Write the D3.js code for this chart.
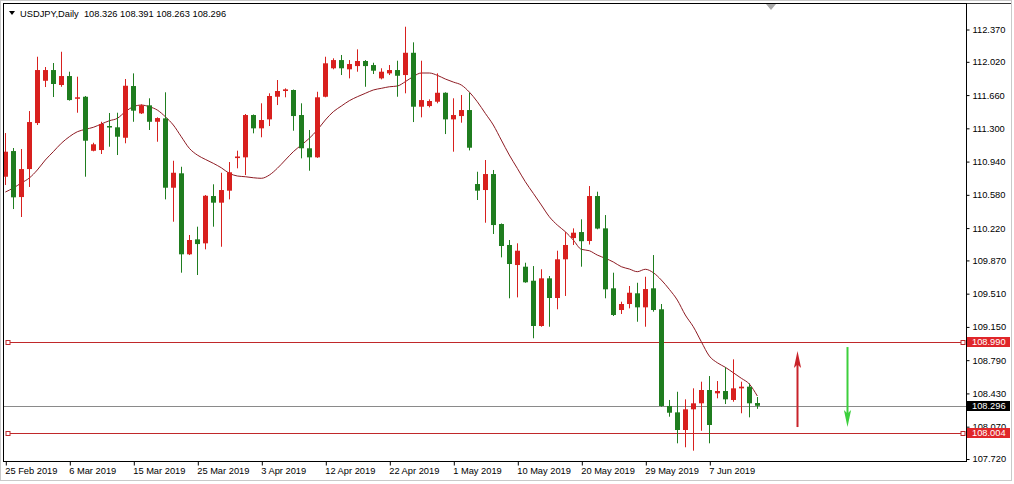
<!DOCTYPE html>
<html><head><meta charset="utf-8">
<script src="https://cdn.jsdelivr.net/npm/d3@7/dist/d3.min.js"></script>
<style>
html,body{margin:0;padding:0;background:#fff;}
svg{display:block;}
text{font-family:"Liberation Sans",Arial,sans-serif;}
</style></head><body>
<svg id="c" width="1014" height="484"></svg>
<script>
// ---------- DATA ----------
const symbol = "USDJPY,Daily";
const dates = ["2019-02-25","2019-02-26","2019-02-27","2019-02-28","2019-03-01","2019-03-03","2019-03-04","2019-03-05","2019-03-06","2019-03-07",
"2019-03-08","2019-03-10","2019-03-11","2019-03-12","2019-03-13","2019-03-14","2019-03-15","2019-03-17","2019-03-18","2019-03-19",
"2019-03-20","2019-03-21","2019-03-22","2019-03-24","2019-03-25","2019-03-26","2019-03-27","2019-03-28","2019-03-29","2019-03-31",
"2019-04-01","2019-04-02","2019-04-03","2019-04-04","2019-04-05","2019-04-07","2019-04-08","2019-04-09","2019-04-10","2019-04-11",
"2019-04-12","2019-04-14","2019-04-15","2019-04-16","2019-04-17","2019-04-18","2019-04-19","2019-04-21","2019-04-22","2019-04-23",
"2019-04-24","2019-04-25","2019-04-26","2019-04-28","2019-04-29","2019-04-30","2019-05-01","2019-05-02","2019-05-03","2019-05-05",
"2019-05-06","2019-05-07","2019-05-08","2019-05-09","2019-05-10","2019-05-12","2019-05-13","2019-05-14","2019-05-15","2019-05-16",
"2019-05-17","2019-05-19","2019-05-20","2019-05-21","2019-05-22","2019-05-23","2019-05-24","2019-05-26","2019-05-27","2019-05-28",
"2019-05-29","2019-05-30","2019-05-31","2019-06-02","2019-06-03","2019-06-04","2019-06-05","2019-06-06","2019-06-07","2019-06-09",
"2019-06-10","2019-06-11","2019-06-12","2019-06-13","2019-06-14"];

const open = [110.776,111.054,110.556,110.859,111.357,111.815,111.931,111.769,111.866,111.620,
111.642,111.057,111.065,111.325,111.311,111.198,111.758,111.462,111.549,111.371,
111.408,110.657,110.813,109.936,110.098,110.055,110.567,110.495,110.625,110.978,
110.986,111.444,111.300,111.397,111.642,111.704,111.715,111.444,111.084,110.986,
111.642,111.950,112.039,111.939,111.974,112.029,111.985,111.841,111.895,111.931,
111.877,112.118,111.534,111.541,111.588,111.685,111.397,111.433,111.498,110.697,
110.632,110.805,110.264,110.037,109.820,109.802,109.650,109.160,109.676,109.463,
109.882,110.112,110.177,110.080,110.567,110.217,109.568,109.333,109.398,109.514,
109.362,109.568,109.341,108.294,108.225,108.034,108.258,108.323,108.467,108.431,
108.456,108.359,108.485,108.503,108.326];

const high = [111.249,111.087,111.076,111.487,112.075,111.964,112.007,112.129,111.913,111.859,
111.650,111.144,111.371,111.466,111.469,111.834,111.895,111.560,111.625,111.419,
111.690,110.949,110.884,110.145,110.235,110.578,110.694,110.819,110.935,111.058,
111.455,111.450,111.571,111.679,111.823,111.733,111.720,111.571,111.282,111.696,
112.075,112.058,112.094,112.039,112.155,112.039,112.010,111.950,111.985,112.032,
112.400,112.231,112.032,111.614,111.895,111.690,111.625,111.661,111.685,110.830,
110.957,110.849,110.270,110.091,110.055,109.845,109.809,109.774,109.701,109.975,
110.177,110.217,110.315,110.675,110.614,110.361,109.737,109.423,109.593,109.628,
109.693,109.928,109.398,108.359,108.448,108.366,108.485,108.557,108.618,108.564,
108.713,108.799,108.557,108.539,108.391];

const low = [110.686,110.426,110.340,110.665,111.336,111.747,111.639,111.750,111.600,111.469,
110.776,111.051,111.022,111.101,111.011,111.138,111.371,111.455,111.282,111.155,
110.531,110.289,109.737,109.928,109.712,109.990,110.235,110.018,110.531,110.867,
110.794,111.246,111.203,111.325,111.552,111.636,111.274,110.975,110.841,110.980,
111.636,111.939,111.877,111.841,111.913,111.750,111.888,111.830,111.877,111.642,
111.679,111.368,111.419,111.527,111.571,111.238,111.047,111.361,111.061,110.524,
110.278,110.156,109.903,109.460,109.470,109.628,109.027,109.152,109.152,109.341,
109.485,110.037,109.802,110.042,110.207,109.460,109.268,109.290,109.351,109.206,
109.152,109.315,108.286,108.178,107.890,107.847,107.810,108.026,107.890,108.377,
108.315,108.340,108.215,108.171,108.263];

const close = [111.047,110.553,110.859,111.368,111.931,111.931,111.780,111.866,111.606,111.636,
111.166,111.127,111.347,111.311,111.209,111.761,111.491,111.549,111.371,111.411,
110.657,110.819,109.936,110.091,110.047,110.570,110.495,110.632,110.824,110.995,
111.444,111.300,111.390,111.650,111.704,111.722,111.433,111.084,110.986,111.636,
112.004,112.039,111.950,111.996,112.029,111.974,111.924,111.913,111.931,111.869,
112.118,111.534,111.606,111.596,111.685,111.397,111.444,111.498,111.090,110.625,
110.805,110.253,110.026,109.831,109.975,109.633,109.160,109.676,109.463,109.882,
110.037,110.170,110.078,110.567,110.215,109.557,109.279,109.398,109.520,109.362,
109.560,109.333,108.294,108.221,108.034,108.258,108.323,108.467,108.088,108.456,
108.366,108.485,108.503,108.323,108.296];

const ma = [110.610,110.654,110.708,110.762,110.849,110.957,111.047,111.138,111.209,111.263,
111.289,111.311,111.347,111.382,111.408,111.480,111.534,111.552,111.534,111.498,
111.426,111.336,111.209,111.084,111.011,110.964,110.921,110.873,110.813,110.784,
110.776,110.765,110.759,110.794,110.867,110.957,111.047,111.119,111.192,111.282,
111.390,111.480,111.541,111.599,111.642,111.679,111.715,111.733,111.750,111.758,
111.805,111.861,111.899,111.899,111.874,111.834,111.801,111.769,111.693,111.588,
111.462,111.336,111.173,111.011,110.867,110.722,110.596,110.470,110.343,110.253,
110.181,110.091,109.990,109.975,109.928,109.893,109.853,109.802,109.777,109.748,
109.774,109.737,109.658,109.557,109.441,109.279,109.152,108.990,108.835,108.762,
108.713,108.654,108.594,108.532,108.402];

const yTicks = [112.370,112.020,111.660,111.300,110.940,110.580,110.220,109.870,109.510,109.150,108.790,108.430,108.070,107.720];
const xTickDates = ["2019-02-25","2019-03-06","2019-03-15","2019-03-25","2019-04-03","2019-04-12","2019-04-22","2019-05-01","2019-05-10","2019-05-20","2019-05-29","2019-06-07"];
const levels = [108.990, 108.004];
const bid = 108.296;
// arrows: bar position (in bars from first), start price, end price
const arrowBars = [99, 105.2];
const arrowFrom = [108.066, 108.932];
const arrowTo = [108.889, 108.066];
const shiftBar = 95.7;

// ---------- DRAW ----------
const svg = d3.select("#c");
const FS = 9.3;
const P = {l:3, t:3, r:966, b:461};
const x = d3.scaleLinear().domain([0, dates.length - 1]).range([5.3, 757.3]);
const y = d3.scaleLinear().domain([107.72, 112.37]).range([459, 29.5]);
const parse = d3.timeParse("%Y-%m-%d");
const fmt = d3.timeFormat("%-d %b %Y");
const RED = "#d8201e", GREEN = "#1f7d1f";

svg.append("rect").attr("x",0).attr("y",0).attr("width",1014).attr("height",484).attr("fill","#fff");
svg.append("rect").attr("x",0.5).attr("y",0.5).attr("width",1011).attr("height",480)
  .attr("fill","none").attr("stroke","#c9c9c9");

svg.append("clipPath").attr("id","pc").append("rect")
  .attr("x",P.l+1).attr("y",P.t+1).attr("width",P.r-P.l-1).attr("height",P.b-P.t-1);
const g = svg.append("g").attr("clip-path","url(#pc)");

// level lines
const lev = g.append("g");
lev.append("line").attr("x1",P.l).attr("x2",P.r).attr("y1",Math.round(y(bid))+0.5).attr("y2",Math.round(y(bid))+0.5)
  .attr("stroke","#8a8a8a").attr("stroke-width",1);
levels.forEach(v=>{
  const yy = Math.round(y(v))+0.5;
  lev.append("line").attr("x1",P.l+5).attr("x2",P.r-3).attr("y1",yy).attr("y2",yy)
    .attr("stroke","#c0282a").attr("stroke-width",1);
  [P.l+5, P.r-3].forEach(cx=>{
    lev.append("rect").attr("x",cx-2).attr("y",yy-2).attr("width",4).attr("height",4)
      .attr("fill","#fff").attr("stroke","#c0282a").attr("stroke-width",1);
  });
});

// MA
g.append("path").datum(ma)
  .attr("d", d3.line().x((d,i)=>x(i)).y(d=>y(d)).curve(d3.curveMonotoneX))
  .attr("fill","none").attr("stroke","#8e1c24").attr("stroke-width",1);

// candles
const idx = d3.range(dates.length);
const cg = g.append("g").selectAll("g").data(idx).join("g");
const col = i => close[i] >= open[i] ? RED : GREEN;
cg.append("line")
  .attr("x1", i=>Math.round(x(i))+0.5).attr("x2", i=>Math.round(x(i))+0.5)
  .attr("y1", i=>y(high[i])).attr("y2", i=>y(low[i]))
  .attr("stroke", col).attr("stroke-width",1);
cg.append("rect")
  .attr("x", i=>Math.round(x(i))-2).attr("width",5)
  .attr("y", i=>y(Math.max(open[i],close[i])))
  .attr("height", i=>Math.max(1.5, Math.abs(y(open[i])-y(close[i]))))
  .attr("fill", col);

// arrows
arrowBars.forEach((b,k)=>{
  const ax = Math.round(x(b))+0.5, y0 = y(arrowFrom[k]), y1 = y(arrowTo[k]);
  const c = y1 < y0 ? "#c8232a" : "#3ccf3c";
  const dir = y1 < y0 ? 1 : -1;
  const hl = 17, hw = 3.6;
  g.append("line").attr("x1",ax).attr("x2",ax).attr("y1",y0).attr("y2",y1 + dir*hl*0.6)
    .attr("stroke",c).attr("stroke-width",2);
  g.append("path").attr("d",`M${ax},${y1} L${ax-hw},${y1+dir*hl} L${ax},${y1+dir*hl*0.8} L${ax+hw},${y1+dir*hl} Z`)
    .attr("fill",c);
});

// frame
svg.append("line").attr("x1",P.l).attr("x2",1011).attr("y1",P.t+0.5).attr("y2",P.t+0.5).attr("stroke","#333");
svg.append("rect").attr("x",P.l+0.5).attr("y",P.t+0.5).attr("width",P.r-P.l).attr("height",P.b-P.t)
  .attr("fill","none").attr("stroke","#000").attr("stroke-width",1);

// shift marker
const sx = Math.round(x(shiftBar));
svg.append("path").attr("d",`M${sx-5},${P.t+1} L${sx+5},${P.t+1} L${sx},${P.t+7} Z`).attr("fill","#a8a8a8");

// y axis
const ya = svg.append("g").attr("transform",`translate(${P.r+0.5},0)`)
  .call(d3.axisRight(y).tickValues(yTicks).tickSize(3).tickPadding(3).tickFormat(d3.format(".3f")));
ya.select(".domain").remove();
ya.selectAll("line").attr("stroke","#000");
ya.selectAll("text").attr("fill","#000").style("font-size",FS+"px").attr("font-family",null);

// label boxes
function box(v, fill){
  const yy = Math.round(y(v));
  const bg = svg.append("g");
  bg.append("rect").attr("x",P.r+1).attr("y",yy-5).attr("width",43).attr("height",10).attr("fill",fill);
  bg.append("text").attr("x",P.r+6).attr("y",yy).attr("dy","0.34em").attr("fill","#fff")
    .style("font-size",FS+"px").text(d3.format(".3f")(v));
}
levels.forEach(v=>box(v,"#e0262a"));
box(bid,"#000");

// x axis
const xa = svg.append("g").attr("transform",`translate(0,${P.b+0.5})`)
  .call(d3.axisBottom(x).tickValues(xTickDates.map(d=>dates.indexOf(d)))
    .tickSize(4).tickPadding(2).tickFormat(i=>fmt(parse(dates[i]))));
xa.select(".domain").remove();
xa.selectAll(".tick line").attr("stroke","#000").attr("transform","translate(0.5,0)");
xa.selectAll("text").attr("fill","#000").attr("text-anchor","start").attr("dx","-0.6")
  .style("font-size",FS+"px").attr("font-family",null);

// header
svg.append("path").attr("d","M9,11 L15,11 L12,15 Z").attr("fill","#000");
svg.append("text").attr("x",20).attr("y",16.5).style("font-size",FS+"px").attr("fill","#000")
  .attr("xml:space","preserve").style("white-space","pre")
  .text(`${symbol}  ${d3.format(".3f")(open[open.length-1])} ${d3.format(".3f")(high[high.length-1])} ${d3.format(".3f")(low[low.length-1])} ${d3.format(".3f")(close[close.length-1])}`);
</script>
</body></html>
